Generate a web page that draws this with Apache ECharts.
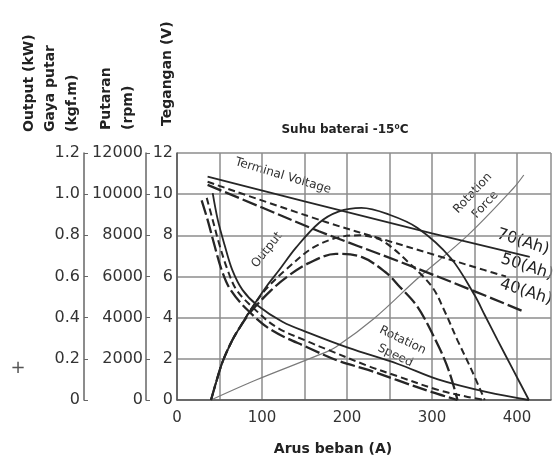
<!DOCTYPE html>
<html>
<head>
<meta charset="utf-8">
<script src="https://cdn.jsdelivr.net/npm/echarts@6/dist/echarts.min.js"></script>
<style>
html,body{margin:0;padding:0;background:#fff;}
#chart{width:554px;height:462px;}
</style>
</head>
<body>
<div id="chart"></div>
<script>
// ---- data (x = Arus beban in A) ----
const xTicks = [0, 100, 200, 300, 400];
const voltTicks = [0, 2, 4, 6, 8, 10, 12];
const rpmTicks = [0, 2000, 4000, 6000, 8000, 10000, 12000];
const kwTicks = [0, 0.2, 0.4, 0.6, 0.8, 1.0, 1.2];

// Terminal voltage (V)
const voltage70 = [[36,10.85],[150,9.65],[300,8.1],[415,6.95]];
const voltage50 = [[36,10.6],[175,8.65],[245,7.77],[303,7.05],[361,6.32],[387,6.0]];
const voltage40 = [[36,10.45],[100,9.35],[167,8.2],[260,6.75],[340,5.45],[408,4.3]];

// Output (kW)
const output70 = [[40,0],[47,0.1],[54,0.19],[65,0.29],[75,0.36],[87,0.44],[105,0.55],[120,0.63],[140,0.74],[167,0.86],[190,0.915],[217,0.933],[250,0.9],[283,0.836],[322,0.69],[350,0.51],[362,0.413],[377,0.292],[395,0.15],[414,0]];
const output50 = [[40,0],[47,0.1],[54,0.19],[65,0.29],[75,0.36],[87,0.44],[105,0.54],[130,0.64],[160,0.74],[190,0.79],[215,0.8],[235,0.785],[250,0.75],[272,0.67],[300,0.55],[315,0.43],[330,0.29],[345,0.16],[362,0]];
const output40 = [[40,0],[47,0.1],[54,0.19],[65,0.29],[75,0.36],[87,0.43],[110,0.53],[130,0.6],[155,0.665],[187,0.71],[217,0.695],[245,0.622],[260,0.559],[283,0.452],[307,0.267],[320,0.14],[330,0]];

// Rotation speed (rpm)
const speed70 = [[42,10050],[48,8750],[56,7530],[65,6320],[77,5350],[94.5,4600],[124,3800],[155,3260],[202,2530],[260,1750],[307,1000],[365,380],[414,0]];
const speed50 = [[35,9820],[42,8750],[50,7530],[59.5,6320],[70,5350],[88.6,4520],[116.6,3550],[155,2820],[178,2430],[225,1650],[260,1150],[307,490],[342,150],[362,0]];
const speed40 = [[29,9700],[36,8750],[44,7530],[52.5,6320],[63,5350],[83,4370],[111,3400],[155,2530],[190,1900],[225,1460],[260,950],[300,380],[330,0]];

// Rotation force (kgf.m)
const force = [[40,0],[93,0.097],[167,0.219],[187,0.258],[233,0.4],[283,0.59],[342,0.8],[396,1.03],[408,1.093]];

const FONT = '"DejaVu Sans", sans-serif';
const ink = '#262626';
const dash50 = [7, 4];
const dash40 = [15, 4];

function line(name, data, yIdx, type, width, color, smooth) {
  return {
    name, type: 'line', data, yAxisIndex: yIdx, showSymbol: false, symbol: 'none',
    smooth: smooth === undefined ? 0.35 : smooth, silent: true,
    lineStyle: { color: color || ink, width, type }
  };
}

const chart = echarts.init(document.getElementById('chart'), null, { renderer: 'canvas' });

const labelStyle = { color: '#333', fontFamily: FONT, fontSize: 16 };

chart.setOption({
  animation: false,
  backgroundColor: '#fff',
  grid: { left: 177, top: 153, right: 0, bottom: 62, containLabel: false },
  xAxis: {
    type: 'value', min: 0, max: 440, interval: 50,
    axisLine: { show: true, lineStyle: { color: '#555', width: 1.5 } },
    axisTick: { show: false },
    splitLine: { show: true, lineStyle: { color: '#8c8c8c', width: 1.5 } },
    axisLabel: {
      color: '#333', fontFamily: FONT, fontSize: 15, margin: 11,
      formatter: v => (xTicks.indexOf(v) >= 0 ? String(v) : '')
    }
  },
  yAxis: [
    {
      type: 'value', position: 'left', offset: 0, min: 0, max: 12, interval: 2,
      axisLine: { show: true, lineStyle: { color: '#555', width: 1.5 } },
      axisTick: { show: false },
      splitLine: { show: true, lineStyle: { color: '#8c8c8c', width: 1.5 } },
      axisLabel: Object.assign({ margin: 4, formatter: v => (voltTicks.indexOf(v) >= 0 ? String(v) : '') }, labelStyle)
    },
    {
      type: 'value', position: 'left', offset: 31, min: 0, max: 12000, interval: 2000,
      axisLine: { show: true, lineStyle: { color: '#666', width: 1.5 } },
      axisTick: { show: true, inside: true, length: 4, lineStyle: { color: '#666' } },
      splitLine: { show: false },
      axisLabel: Object.assign({ margin: 3, formatter: v => (rpmTicks.indexOf(v) >= 0 ? String(v) : '') }, labelStyle)
    },
    {
      type: 'value', position: 'left', offset: 93, min: 0, max: 1.2, interval: 0.2,
      axisLine: { show: true, lineStyle: { color: '#666', width: 1.5 } },
      axisTick: { show: true, inside: true, length: 4, lineStyle: { color: '#666' } },
      splitLine: { show: false },
      axisLabel: Object.assign({ margin: 4, formatter: v => {
        const t = kwTicks.find(k => Math.abs(k - v) < 1e-6);
        if (t === undefined) return '';
        return t === 0 ? '0' : t.toFixed(1);
      } }, labelStyle)
    }
  ],
  series: [
    line('Force', force, 2, 'solid', 1.2, '#7a7a7a'),
    line('V70', voltage70, 0, 'solid', 1.8, ink, 0),
    line('V50', voltage50, 0, dash50, 2, ink),
    line('V40', voltage40, 0, dash40, 2.3, ink),
    line('P70', output70, 2, 'solid', 1.8, ink),
    line('P50', output50, 2, dash50, 2, ink),
    line('P40', output40, 2, dash40, 2.3, ink),
    line('N70', speed70, 1, 'solid', 1.8, ink),
    line('N50', speed50, 1, dash50, 2, ink),
    line('N40', speed40, 1, dash40, 2.3, ink)
  ],
  graphic: {
    elements: [
      // axis names (rotated)
      { type: 'text', x: 29, y: 132, rotation: Math.PI / 2, style: { text: 'Output (kW)', font: 'bold 14px ' + FONT, fill: '#222', textAlign: 'left', textVerticalAlign: 'middle' } },
      { type: 'text', x: 50, y: 132, rotation: Math.PI / 2, style: { text: 'Gaya putar', font: 'bold 14px ' + FONT, fill: '#222', textAlign: 'left', textVerticalAlign: 'middle' } },
      { type: 'text', x: 72, y: 132, rotation: Math.PI / 2, style: { text: '(kgf.m)', font: 'bold 14px ' + FONT, fill: '#222', textAlign: 'left', textVerticalAlign: 'middle' } },
      { type: 'text', x: 106, y: 130, rotation: Math.PI / 2, style: { text: 'Putaran', font: 'bold 14px ' + FONT, fill: '#222', textAlign: 'left', textVerticalAlign: 'middle' } },
      { type: 'text', x: 128, y: 130, rotation: Math.PI / 2, style: { text: '(rpm)', font: 'bold 14px ' + FONT, fill: '#222', textAlign: 'left', textVerticalAlign: 'middle' } },
      { type: 'text', x: 167, y: 126, rotation: Math.PI / 2, style: { text: 'Tegangan (V)', font: 'bold 14px ' + FONT, fill: '#222', textAlign: 'left', textVerticalAlign: 'middle' } },
      // title
      { type: 'text', x: 345, y: 130, style: { text: 'Suhu baterai -15\u2070C', font: 'bold 12px ' + FONT, fill: '#222', textAlign: 'center', textVerticalAlign: 'middle' } },
      // x axis name
      { type: 'text', x: 333, y: 449, style: { text: 'Arus beban (A)', font: 'bold 14px ' + FONT, fill: '#222', textAlign: 'center', textVerticalAlign: 'middle' } },
      // plus mark
      { type: 'text', x: 18, y: 368, style: { text: '+', font: '18px ' + FONT, fill: '#555', textAlign: 'center', textVerticalAlign: 'middle' } },
      // curve annotations
      { type: 'text', x: 283, y: 176, rotation: -0.29, style: { text: 'Terminal Voltage', font: '12px ' + FONT, fill: '#333', textAlign: 'center', textVerticalAlign: 'middle' } },
      { type: 'text', x: 267, y: 250, rotation: 0.9, style: { text: 'Output', font: '12px ' + FONT, fill: '#333', textAlign: 'center', textVerticalAlign: 'middle' } },
      { type: 'text', x: 479, y: 199, rotation: 0.82, style: { text: 'Rotation\nForce', font: '12px ' + FONT, fill: '#333', textAlign: 'center', textVerticalAlign: 'middle', lineHeight: 17 } },
      { type: 'text', x: 399, y: 348, rotation: -0.45, style: { text: 'Rotation\nSpeed', font: '12px ' + FONT, fill: '#333', textAlign: 'center', textVerticalAlign: 'middle', lineHeight: 17 } },
      { type: 'text', x: 523, y: 242, rotation: -0.31, style: { text: '70(Ah)', font: '16px ' + FONT, fill: '#222', textAlign: 'center', textVerticalAlign: 'middle' } },
      { type: 'text', x: 527, y: 267, rotation: -0.31, style: { text: '50(Ah)', font: '16px ' + FONT, fill: '#222', textAlign: 'center', textVerticalAlign: 'middle' } },
      { type: 'text', x: 526, y: 292, rotation: -0.31, style: { text: '40(Ah)', font: '16px ' + FONT, fill: '#222', textAlign: 'center', textVerticalAlign: 'middle' } }
    ]
  }
});
</script>
</body>
</html>
